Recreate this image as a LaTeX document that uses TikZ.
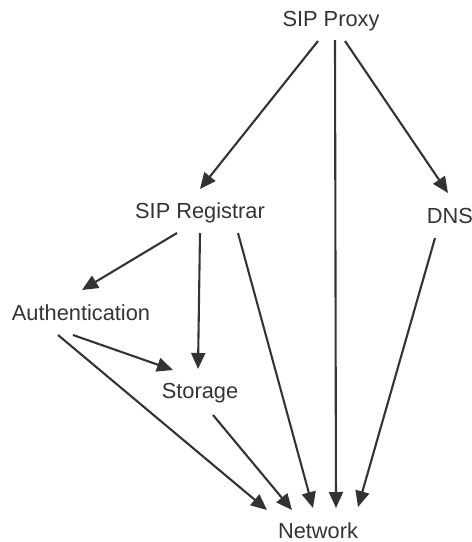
\documentclass[tikz,border=0pt]{standalone}
\usepackage{fontspec}
\setmainfont{Liberation Sans}
\usetikzlibrary{arrows.meta}
\definecolor{ink}{HTML}{333333}
\begin{document}
\begin{tikzpicture}[x=1pt,y=-1pt,
  lbl/.style={anchor=base,inner sep=0pt,text=ink,font=\fontsize{21.8}{26}\selectfont},
  arr/.style={draw=ink,line width=2.1pt,-{Triangle[length=16pt,width=14pt]}}]
\useasboundingbox (0,0) rectangle (472,542);
% labels, placed on their baselines
\node[lbl] (proxy) at (331,26) {SIP Proxy};
\node[lbl] (reg) at (200,218) {SIP Registrar};
\node[lbl] (dns) at (450,223) {DNS};
\node[lbl] (auth) at (81,320) {Authentication};
\node[lbl] (stor) at (200,398) {Storage};
\node[lbl] (net) at (318,538) {Network};
% dependencies
\draw[arr] ([shift={(-13,15)}]proxy.base) -- ([shift={(0,-29)}]reg.base);
\draw[arr] ([shift={(4,14)}]proxy.base) -- ([shift={(18,-30)}]net.base);
\draw[arr] ([shift={(14,15)}]proxy.base) -- ([shift={(-2,-30)}]dns.base);
\draw[arr] ([shift={(-23,15)}]reg.base) -- ([shift={(1,-30)}]auth.base);
\draw[arr] ([shift={(0,15)}]reg.base) -- ([shift={(-2,-29)}]stor.base);
\draw[arr] ([shift={(38,15)}]reg.base) -- ([shift={(-5,-30)}]net.base);
\draw[arr] ([shift={(-15,15)}]dns.base) -- ([shift={(40,-31)}]net.base);
\draw[arr] ([shift={(-8,15)}]auth.base) -- ([shift={(-27,-28)}]stor.base);
\draw[arr] ([shift={(-23,15)}]auth.base) -- ([shift={(-51,-28)}]net.base);
\draw[arr] ([shift={(13,17)}]stor.base) -- ([shift={(-26,-28)}]net.base);
\end{tikzpicture}
\end{document}
